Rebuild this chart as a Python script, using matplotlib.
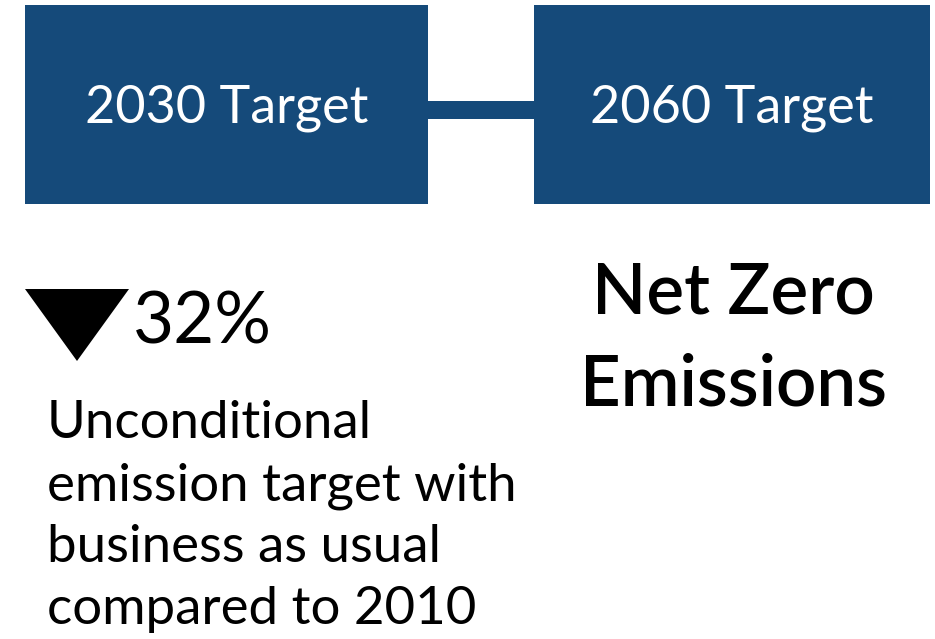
import matplotlib.pyplot as plt
from matplotlib.patches import Rectangle, Polygon

# content
targets = ["2030 Target", "2060 Target"]
reduction = "32%"
left_lines = ["Unconditional", "emission target with", "business as usual", "compared to 2010"]
right_lines = ["Net Zero", "Emissions"]

blue = "#154a7a"
plt.rcParams['font.family'] = ['Lato', 'DejaVu Sans']

fig = plt.figure(figsize=(9.35, 6.39), dpi=100)
ax = fig.add_axes([0, 0, 1, 1])
ax.set_xlim(0, 935)
ax.set_ylim(639, 0)
ax.axis('off')

# boxes and connector
boxes = [(25, 5, 403, 199), (534, 5, 396, 199)]
ax.add_patch(Rectangle((428, 101), 106, 18, color=blue, lw=0))
for (x, y, w, h), label in zip(boxes, targets):
    ax.add_patch(Rectangle((x, y), w, h, color=blue, lw=0))
    ax.text(x + w / 2, 122, label, color='white', fontsize=37.5,
            ha='center', va='baseline')

# down arrow + percentage
ax.add_patch(Polygon([(25, 289), (129, 289), (77, 361)], closed=True,
                     color='black', lw=0))
ax.text(133, 344, reduction, fontsize=51, ha='left', va='baseline')

# description on the left
for i, line in enumerate(left_lines):
    ax.text(47, 438 + i * 62, line, fontsize=38, ha='left', va='baseline')

# right side headline
for i, line in enumerate(right_lines):
    ax.text(733, 313 + i * 92, line, fontsize=51, fontweight='semibold',
            ha='center', va='baseline')

fig.savefig('out.png', dpi=100)
